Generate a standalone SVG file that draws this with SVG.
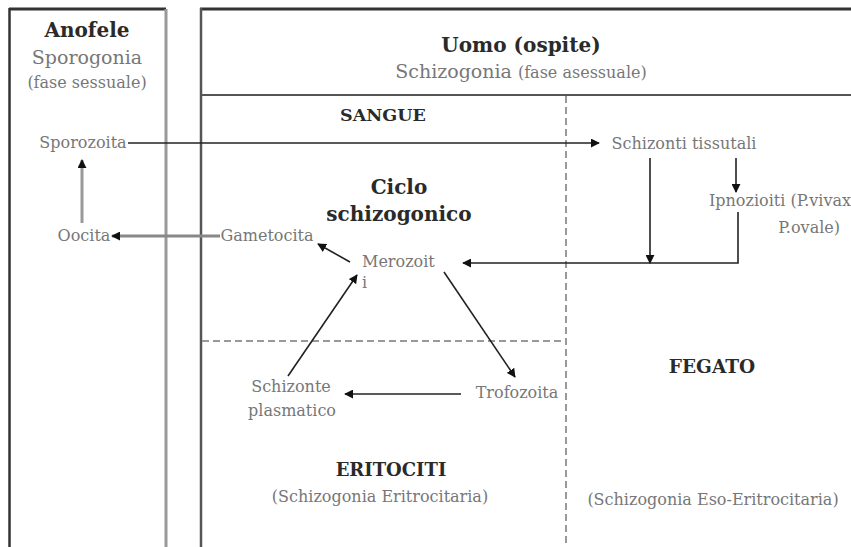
<svg xmlns="http://www.w3.org/2000/svg" width="851" height="547" viewBox="0 0 851 547">
<defs>
<style>
text{font-family:"DejaVu Serif","Liberation Serif",serif;}
.b{font-weight:bold;fill:#2a2a2a;}
.g{fill:#777;font-size:16px;}
.ln{stroke:#222;stroke-width:1.6;fill:none;}
.gl{stroke:#999;stroke-width:3;fill:none;}
.dash{stroke:#999;stroke-width:2;stroke-dasharray:7,4;fill:none;}
</style>
<marker id="ah" viewBox="0 0 10 10" refX="9" refY="5" markerWidth="9" markerHeight="9" orient="auto" markerUnits="userSpaceOnUse">
<path d="M0,0 L10,5 L0,10 z" fill="#111"/>
</marker>
<marker id="ahg" viewBox="0 0 10 10" refX="9" refY="5" markerWidth="9" markerHeight="9" orient="auto" markerUnits="userSpaceOnUse">
<path d="M0,0 L10,5 L0,10 z" fill="#111"/>
</marker>
</defs>
<rect width="851" height="547" fill="#fff"/>
<g id="frames">
<line x1="9" y1="9" x2="166" y2="9" stroke="#333" stroke-width="3"/>
<line x1="9.5" y1="8" x2="9.5" y2="547" stroke="#333" stroke-width="2.5"/>
<line x1="166" y1="9" x2="166" y2="547" class="gl"/>
<line x1="200" y1="9" x2="851" y2="9" stroke="#333" stroke-width="3"/>
<line x1="201" y1="8" x2="201" y2="547" stroke="#555" stroke-width="2.5"/>
<line x1="200" y1="95" x2="851" y2="95" stroke="#555" stroke-width="2"/>
<line x1="566" y1="96" x2="566" y2="547" class="dash"/>
<line x1="202" y1="341" x2="566" y2="341" class="dash"/>
</g>
<g id="headers">
<text x="87" y="37" text-anchor="middle" class="b" font-size="20">Anofele</text>
<text x="87" y="64" text-anchor="middle" fill="#777" font-size="19">Sporogonia</text>
<text x="87" y="88" text-anchor="middle" fill="#777" font-size="16">(fase sessuale)</text>
<text x="521" y="52" text-anchor="middle" class="b" font-size="20">Uomo (ospite)</text>
<text x="521" y="78" text-anchor="middle" fill="#777" font-size="19">Schizogonia <tspan font-size="16">(fase asessuale)</tspan></text>
<text x="383" y="121" text-anchor="middle" class="b" font-size="17.5">SANGUE</text>
<text x="399" y="194" text-anchor="middle" class="b" font-size="20">Ciclo</text>
<text x="399" y="221" text-anchor="middle" class="b" font-size="20">schizogonico</text>
<text x="391" y="476" text-anchor="middle" class="b" font-size="18">ERITOCITI</text>
<text x="380" y="502" text-anchor="middle" class="g">(Schizogonia Eritrocitaria)</text>
<text x="712" y="373" text-anchor="middle" class="b" font-size="18.5">FEGATO</text>
<text x="713" y="505" text-anchor="middle" class="g">(Schizogonia Eso-Eritrocitaria)</text>
</g>
<g id="node-sporozoita"><text x="83" y="148" text-anchor="middle" class="g">Sporozoita</text></g>
<g id="node-oocita"><text x="84" y="241" text-anchor="middle" class="g">Oocita</text></g>
<g id="node-gametocita"><text x="267" y="241" text-anchor="middle" class="g">Gametocita</text></g>
<g id="node-merozoiti"><text x="362" y="267" class="g">Merozoit</text><text x="362" y="288" class="g">i</text></g>
<g id="node-trofozoita"><text x="517" y="398" text-anchor="middle" class="g">Trofozoita</text></g>
<g id="node-schizonte"><text x="291" y="392" text-anchor="middle" class="g">Schizonte</text><text x="292" y="416" text-anchor="middle" class="g">plasmatico</text></g>
<g id="node-schizonti-tissutali"><text x="684" y="149" text-anchor="middle" class="g">Schizonti tissutali</text></g>
<g id="node-ipnozioiti"><text x="851" y="206" text-anchor="end" class="g">Ipnozioiti (P.vivax</text><text x="840" y="233" text-anchor="end" class="g">P.ovale)</text></g>
<g id="connectors">
<line x1="128" y1="143" x2="599" y2="143" class="ln" marker-end="url(#ah)"/>
<line x1="82" y1="223" x2="82" y2="160" stroke="#999" stroke-width="3" marker-end="url(#ahg)"/>
<line x1="220" y1="236" x2="112" y2="236" stroke="#888" stroke-width="3" marker-end="url(#ahg)"/>
<line x1="350" y1="262" x2="318" y2="244" class="ln" marker-end="url(#ah)"/>
<line x1="650" y1="158" x2="650" y2="263" class="ln" marker-end="url(#ah)"/>
<line x1="736" y1="158" x2="736" y2="192" class="ln" marker-end="url(#ah)"/>
<polyline points="738,212 738,263 463,263" class="ln" marker-end="url(#ah)"/>
<line x1="288" y1="376" x2="357" y2="275" class="ln" marker-end="url(#ah)"/>
<line x1="444" y1="272" x2="515" y2="377" class="ln" marker-end="url(#ah)"/>
<line x1="461" y1="394" x2="345" y2="394" class="ln" marker-end="url(#ah)"/>
</g>
</svg>
